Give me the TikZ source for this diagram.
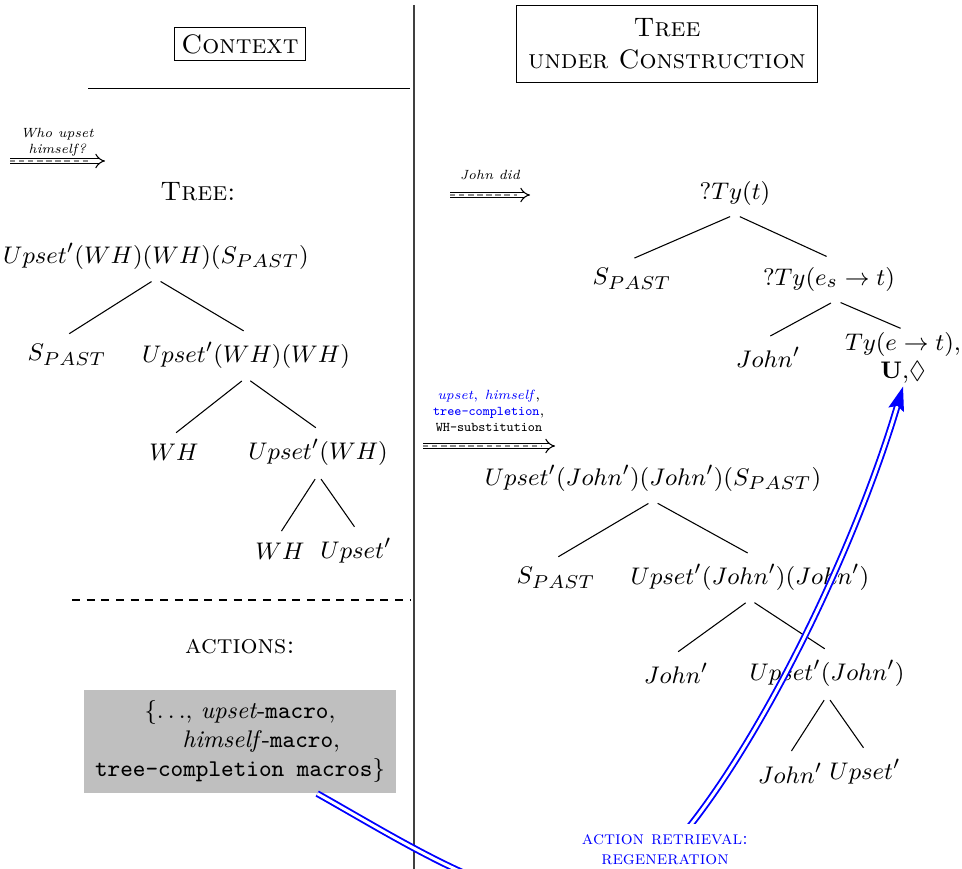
\documentclass[tikz,border=0pt]{standalone}
\usepackage{amsmath,amssymb}
\usepackage{xcolor}
\usepackage{tikz}
\usetikzlibrary{arrows.meta}

\tikzset{
  branch/.style={shorten <=2pt, shorten >=1pt},
  thenarrow/.style={double, double distance=1.5pt, -{Implies}},
  thendash/.style={black!45, line width=0.5pt, dash pattern=on 2pt off 1.4pt},
  steplabel/.style={font=\tiny, align=center, inner sep=1.5pt},
  retrieve/.style={draw=blue, double=white, line width=0.7pt, double distance=1.1pt,
    -{Stealth[length=9pt, width=6pt, inset=1.5pt]}}
}

\begin{document}
\begin{tikzpicture}[x=0.3745pt,y=-0.3745pt]
    \useasboundingbox (0,0) rectangle (962,869);
    % frame of the two columns
    \coordinate (divtop) at (414,5);
    \coordinate (divbot) at (414,869);
    \draw[black!75] (divtop) -- (divbot);
    \node[draw, inner sep=2.5pt] (ctx) at (240,44) {\textsc{Context}};
    \node[draw, align=center, minimum width=113pt, minimum height=29pt]
      (tuc) at (667,44) {\textsc{Tree}\\\textsc{under Construction}};
    \coordinate (hl) at (88,88.5);
    \coordinate (hr) at (410,88.5);
    \draw (hl) -- (hr);

    % question step
    \coordinate (q1s) at (10,161);
    \coordinate (q1e) at (105,161);
    \draw[thenarrow] (q1s) -- node[steplabel, above] (q1)
      {\textit{Who upset}\\\textit{himself?}} (q1e);
    \draw[thendash] (q1s) -- ([xshift=-5pt]q1e);

    % context tree
    \node (treelbl) at (198,192) {\textsc{Tree:}};
    \begin{scope}[every node/.style={font=\fontsize{9.3}{10.5}\selectfont}]
      \node (l0) at (156,256) {$Upset'(WH)(WH)(S_{PAST})$};
      \node (l1) at (67,355) {$S_{PAST}$};
      \node (l2) at (246,355) {$Upset'(WH)(WH)$};
      \node (l3) at (174,452) {$WH$};
      \node (l4) at (318,452) {$Upset'(WH)$};
      \node (l5) at (280,551) {$WH$};
      \node (l6) at (356,551) {$Upset'$};
    \end{scope}
    \draw[branch] (l0.south) -- (l1.north);
    \draw[branch] (l0.south) -- (l2.north);
    \draw[branch] (l2.south) -- (l3.north);
    \draw[branch] (l2.south) -- (l4.north);
    \draw[branch] (l4.south) -- (l5.north);
    \draw[branch] (l4.south) -- (l6.north);

    \coordinate (dl) at (72,600);
    \coordinate (dr) at (410,600);
    \draw[dash pattern=on 3pt off 2.5pt] (dl) -- (dr);

    % actions
    \node (act) at (240,647) {\textsc{actions:}};
    \node[fill=black!25, minimum width=116.8pt, minimum height=38.6pt,
      align=center, font=\small] (actbox) at (240,741.5)
      {$\{\ldots$, \textit{upset}-\texttt{macro},\\
       \hspace*{16pt}\textit{himself}-\texttt{macro},\\
       \texttt{tree-completion macros}$\}$};

    % answer step
    \coordinate (a1s) at (450,195);
    \coordinate (a1e) at (530,195);
    \draw[thenarrow] (a1s) -- node[steplabel, above=4pt] (a1)
      {\textit{John did}} (a1e);
    \draw[thendash] (a1s) -- ([xshift=-5pt]a1e);

    % tree under construction
    \begin{scope}[every node/.style={font=\fontsize{9.3}{10.5}\selectfont}]
      \node (r0) at (735,193) {$?Ty(t)$};
      \node (r1) at (632,279) {$S_{PAST}$};
      \node (r2) at (829,279) {$?Ty(e_s \rightarrow t)$};
      \node (r3) at (768,357) {$John'$};
      \node[align=center, inner sep=1pt] (tyet) at (903,358)
        {$Ty(e \rightarrow t)$,\\$\mathbf{U}$,$\Diamond$};
    \end{scope}
    \draw[branch] (r0.south) -- (r1.north);
    \draw[branch] (r0.south) -- (r2.north);
    \draw[branch] ([xshift=2.5pt]r2.south) -- (r3.north);
    \draw[branch] ([xshift=2.5pt]r2.south) -- (tyet.north);

    % completion step
    \coordinate (c1s) at (423,446);
    \coordinate (c1e) at (555,446);
    \draw[thenarrow] (c1s) -- node[steplabel, above=3.5pt] (c1)
      {{\color{blue}\textit{upset}, \textit{himself}},\\
       {\color{blue}\texttt{tree-completion}},\\
       \texttt{WH-substitution}} (c1e);
    \draw[thendash] (c1s) -- ([xshift=-5pt]c1e);

    % completed tree
    \begin{scope}[every node/.style={font=\fontsize{9.3}{10.5}\selectfont}]
      \node (s0) at (653,478) {$Upset'(John')(John')(S_{PAST})$};
      \node (s1) at (556,578) {$S_{PAST}$};
      \node (s2) at (750,577) {$Upset'(John')(John')$};
      \node (s3) at (676,673) {$John'$};
      \node (s4) at (827,673) {$Upset'(John')$};
      \node (s5) at (790,773) {$John'$};
      \node (s6) at (865,772) {$Upset'$};
    \end{scope}
    \draw[branch] (s0.south) -- (s1.north);
    \draw[branch] (s0.south) -- (s2.north);
    \draw[branch] (s2.south) -- (s3.north);
    \draw[branch] (s2.south) -- (s4.north);
    \draw[branch] (s4.south) -- (s5.north);
    \draw[branch] (s4.south) -- (s6.north);

    % regeneration
    \coordinate (dip) at (585,905);
    \draw[retrieve] (actbox.-34) .. controls (400,840) and (500,905) .. (dip)
      .. controls (680,905) and (840,600) .. (tyet.south);
    \node[font=\fontsize{7}{7.5}\selectfont, text=blue, fill=white,
      align=center, inner sep=4pt] (retr) at (665,850)
      {\textsc{action retrieval:}\\\textsc{regeneration}};
  \end{tikzpicture}
\end{document}
